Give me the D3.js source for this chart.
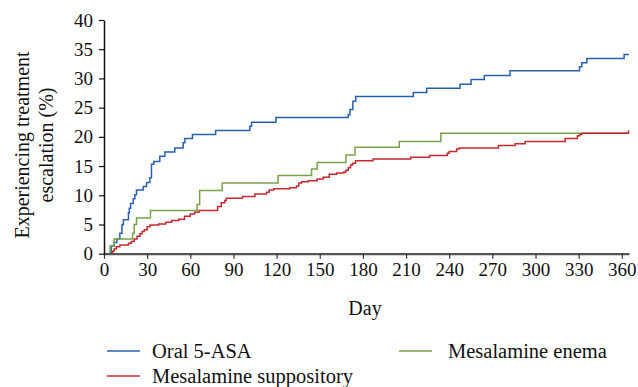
<!DOCTYPE html>
<html>
<head>
<meta charset="utf-8">
<script src="https://cdn.jsdelivr.net/npm/d3@7"></script>
<style>
  body { margin: 0; background: #fff; }
  text { font-family: "Liberation Serif", "DejaVu Serif", serif; }
</style>
</head>
<body>
<script>
// day, cumulative % escalated
const oralDays = [0, 5, 7, 9, 11, 12.5, 13.5, 17, 17.6, 18.5, 20.3, 21.5, 22.6, 27.3, 29.6, 31.9, 33, 34.6, 38.8, 42.3, 49.2, 55, 56.2, 61.5, 77.6, 101.4, 102.6, 119.5, 169.8, 171, 173, 175, 215, 224.4, 247.5, 255.2, 264.4, 282.3, 330.6, 332.2, 335.7, 361.6, 365];
const oralPct = [0, 1.3, 1.9, 2.5, 3.5, 5, 5.8, 7, 7.8, 8.6, 9.4, 10.1, 10.9, 11.5, 12.2, 13, 15.3, 15.8, 16.7, 17.4, 18.1, 19, 19.7, 20.4, 21.1, 21.8, 22.5, 23.3, 23.8, 24.7, 26.1, 26.9, 27.6, 28.3, 29.0, 29.8, 30.5, 31.3, 32.0, 32.7, 33.4, 34.1, 34.1];

const enemaDays = [0, 4.2, 7, 19.9, 21, 22.6, 32.3, 64.7, 66.5, 82.2, 121, 144.3, 148.2, 168.2, 174.5, 205.3, 234.2, 365];
const enemaPct = [0, 1.3, 2.5, 3.5, 5, 6.1, 7.4, 8.4, 10.8, 12.1, 13.4, 14.5, 15.6, 16.9, 18.2, 19.2, 20.6, 20.6];

const suppDays = [0, 6, 7, 8.5, 11, 17, 19, 21, 23, 25, 26.5, 28, 30, 32, 38, 43, 47, 52, 56, 60, 63, 66, 79, 81.5, 84, 85, 96.3, 104.9, 113, 114.8, 118, 129.2, 133.9, 135.5, 137.4, 142, 148.2, 152.4, 156.6, 161.7, 166.8, 168.2, 169.8, 171.4, 172.8, 174.9, 187, 213.2, 226.4, 238.7, 240, 245.2, 246.8, 274.2, 285.8, 292.8, 320.6, 329.2, 330.6, 332.2, 364.7, 365];
const suppPct = [0, 0.4, 0.8, 1.2, 1.5, 1.8, 2.1, 2.5, 3.0, 3.4, 3.8, 4.1, 4.6, 4.9, 5.1, 5.4, 5.7, 5.9, 6.4, 6.8, 7.1, 7.4, 8.1, 8.7, 9.1, 9.5, 9.8, 10.2, 10.5, 10.9, 11.1, 11.3, 11.6, 12.1, 12.3, 12.5, 12.8, 13.1, 13.6, 13.8, 14.0, 14.3, 14.7, 15.2, 15.5, 15.9, 16.2, 16.5, 16.8, 17.2, 17.5, 17.9, 18.1, 18.5, 18.8, 19.2, 19.7, 20.2, 20.4, 20.6, 21.0, 21.0];

const xTicks = [0, 30, 60, 90, 120, 150, 180, 210, 240, 270, 300, 330, 360];
const yTicks = [0, 5, 10, 15, 20, 25, 30, 35, 40];

const series = [
  { name: 'Oral 5-ASA', days: oralDays, pct: oralPct, color: '#2a5fae' },
  { name: 'Mesalamine enema', days: enemaDays, pct: enemaPct, color: '#78a24a' },
  { name: 'Mesalamine suppository', days: suppDays, pct: suppPct, color: '#c22a30' }
];

const w = 638, h = 387;
const margin = { top: 20, left: 104, right: 9, bottom: 133 };

const svg = d3.select('body').append('svg')
  .attr('width', w)
  .attr('height', h);

const xScale = d3.scaleLinear().domain([0, 365]).range([margin.left, w - margin.right]);
const yScale = d3.scaleLinear().domain([0, 40]).range([h - margin.bottom - 0.3, margin.top]);

// lines
const line = d3.line()
  .x(d => xScale(d[0]))
  .y(d => yScale(d[1]))
  .curve(d3.curveStepAfter);

series.forEach(s => {
  const pts = s.days.map((d, i) => [d, s.pct[i]]);
  svg.append('path')
    .datum(pts)
    .attr('fill', 'none')
    .attr('stroke', s.color)
    .attr('stroke-width', 1.5)
    .attr('d', line);
});

// axes
const xAxisG = svg.append('g')
  .attr('transform', `translate(0,${yScale(0)})`)
  .call(d3.axisBottom(xScale).tickValues(xTicks).tickSize(5).tickPadding(4).tickSizeOuter(0));
xAxisG.select('.domain').attr('stroke', '#555').attr('stroke-width', 2.2);
xAxisG.selectAll('.tick line').attr('stroke', '#333').attr('stroke-width', 1.2);
xAxisG.selectAll('text').attr('font-size', 19).attr('fill', '#111')
  .style('font-family', '"Liberation Serif", serif');

const yAxisG = svg.append('g')
  .attr('transform', `translate(${margin.left},0)`)
  .call(d3.axisLeft(yScale).tickValues(yTicks).tickSize(5).tickPadding(6).tickSizeOuter(0));
yAxisG.select('.domain').attr('stroke', '#111').attr('stroke-width', 1.5);
yAxisG.selectAll('.tick line').attr('stroke', '#111').attr('stroke-width', 1.2);
yAxisG.selectAll('text').attr('font-size', 19).attr('fill', '#111')
  .style('font-family', '"Liberation Serif", serif');

// axis titles
svg.append('text')
  .attr('x', 365).attr('y', 315)
  .attr('text-anchor', 'middle')
  .attr('font-size', 20)
  .attr('fill', '#111')
  .text('Day');

const yTitle = svg.append('text')
  .attr('transform', 'translate(0,145) rotate(-90)')
  .attr('text-anchor', 'middle')
  .attr('font-size', 20)
  .attr('fill', '#111');
yTitle.append('tspan').attr('x', 0).attr('y', 29).text('Experiencing treatment');
yTitle.append('tspan').attr('x', 0).attr('y', 53).text('escalation (%)');

// legend
const legendPos = [
  { x: 107, y: 351 },
  { x: 399, y: 351 },
  { x: 107, y: 376 }
];
series.forEach((s, i) => {
  const p = legendPos[i];
  svg.append('line')
    .attr('x1', p.x).attr('x2', p.x + 33)
    .attr('y1', p.y).attr('y2', p.y)
    .attr('stroke', s.color).attr('stroke-width', 1.5);
  svg.append('text')
    .attr('x', p.x + (i === 1 ? 49 : 45)).attr('y', p.y + 7)
    .attr('font-size', 20.5)
    .attr('fill', '#111')
    .text(s.name);
});
</script>
</body>
</html>
